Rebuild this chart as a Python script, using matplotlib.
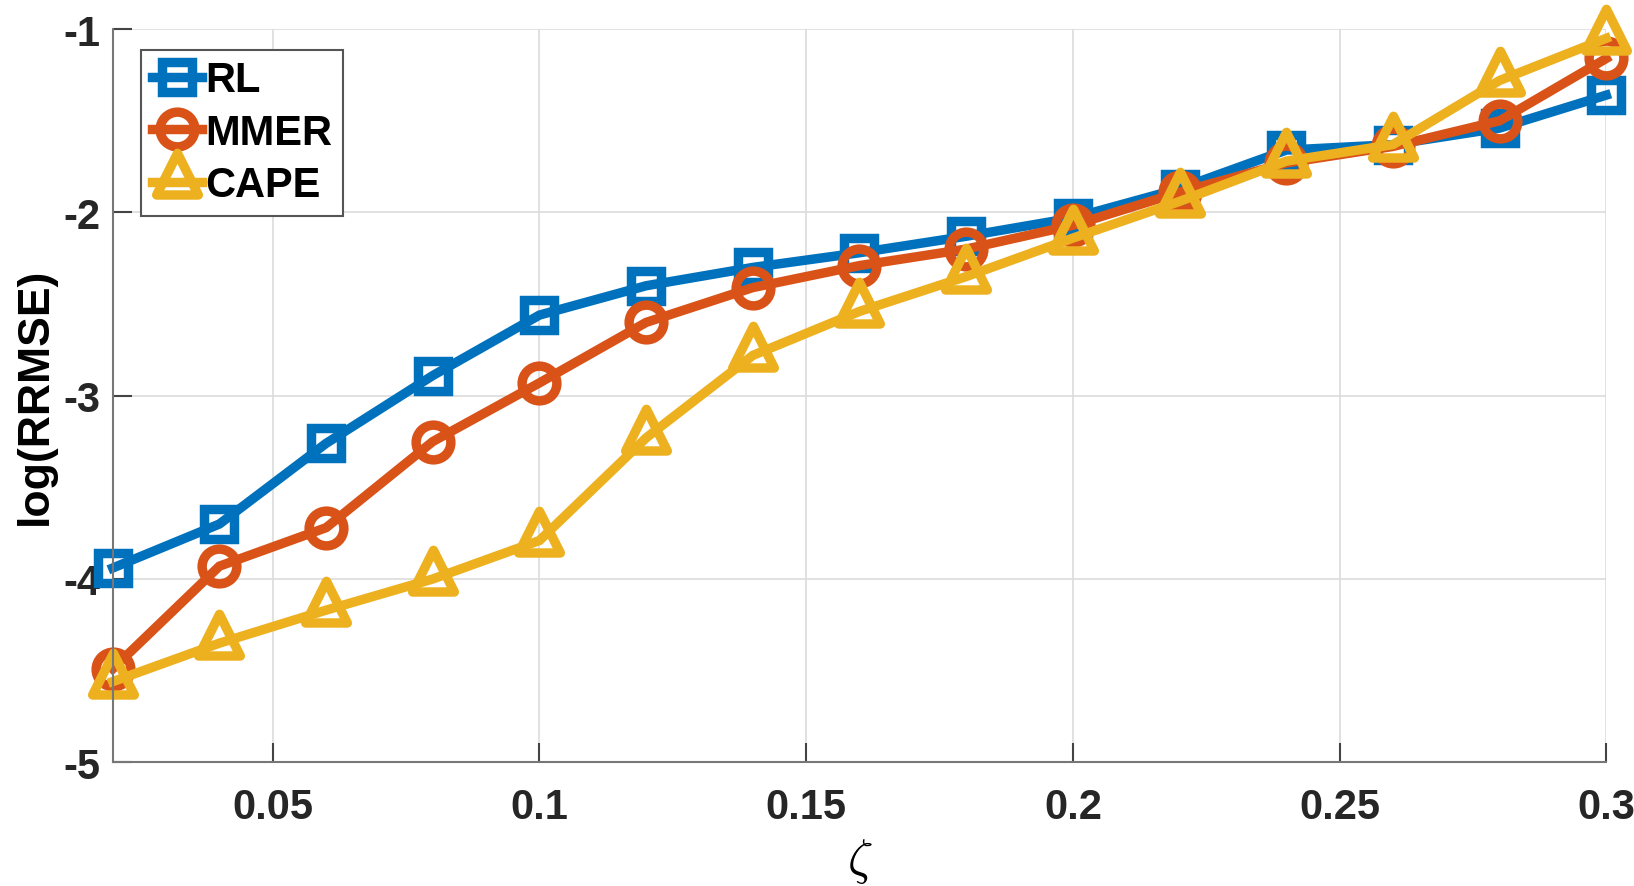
import numpy as np
import matplotlib
matplotlib.use("Agg")
import matplotlib.pyplot as plt
from matplotlib.path import Path

# data
zeta = [0.02, 0.04, 0.06, 0.08, 0.10, 0.12, 0.14, 0.16, 0.18, 0.20, 0.22, 0.24, 0.26, 0.28, 0.30]
rl   = [-3.94, -3.70, -3.26, -2.89, -2.56, -2.40, -2.30, -2.22, -2.13, -2.03, -1.87, -1.66, -1.63, -1.54, -1.36]
mmer = [-4.49, -3.93, -3.72, -3.25, -2.93, -2.60, -2.41, -2.29, -2.20, -2.07, -1.89, -1.73, -1.64, -1.50, -1.16]
cape = [-4.56, -4.35, -4.17, -4.00, -3.79, -3.23, -2.78, -2.54, -2.35, -2.14, -1.94, -1.72, -1.63, -1.28, -1.05]

xticks = [0.05, 0.1, 0.15, 0.2, 0.25, 0.3]
xtick_labels = ["0.05", "0.1", "0.15", "0.2", "0.25", "0.3"]
yticks = [-5, -4, -3, -2, -1]

plt.rcParams["font.family"] = ["Liberation Sans", "DejaVu Sans"]
plt.rcParams["font.weight"] = "bold"
plt.rcParams["mathtext.fontset"] = "cm"
plt.rcParams["axes.unicode_minus"] = False

blue, orange, yellow = "#0072BD", "#D95319", "#EDB120"

# MATLAB-like triangle: data point sits near the centroid
tri = Path([(0, 0.7), (-0.5, -0.3), (0.5, -0.3), (0, 0.7)],
           [Path.MOVETO, Path.LINETO, Path.LINETO, Path.CLOSEPOLY])

fig = plt.figure(figsize=(16.34, 8.87), dpi=100)
ax = fig.add_axes([0.069, 0.1395, 0.914, 0.8265])

lw = 6.8
common = dict(linewidth=lw, markerfacecolor="none", markeredgewidth=lw,
              clip_on=False, solid_joinstyle="miter")
ax.plot(zeta, rl, color=blue, marker="s", markersize=21, label="RL", **common)
ax.plot(zeta, mmer, color=orange, marker="o", markersize=25, label="MMER", **common)
ax.plot(zeta, cape, color=yellow, marker=tri, markersize=42, label="CAPE", **common)

ax.set_xlim(0.02, 0.3)
ax.set_ylim(-5, -1)
ax.set_xticks(xticks)
ax.set_xticklabels(xtick_labels)
ax.set_yticks(yticks)

ax.grid(True, color="#dcdcdc", linewidth=1.2)
ax.set_axisbelow(True)
for side in ["top", "right"]:
    ax.spines[side].set_visible(False)
for side in ["left", "bottom"]:
    ax.spines[side].set_color("#777777")
    ax.spines[side].set_linewidth(1.5)

ax.tick_params(direction="in", length=14, width=1.5, color="#444444",
               labelsize=30, labelcolor="#262626")
ax.tick_params(axis="x", pad=18)
ax.tick_params(axis="y", pad=9)
for lab in ax.get_xticklabels() + ax.get_yticklabels():
    lab.set_fontweight("bold")

ax.set_ylabel("log(RRMSE)", fontsize=32, fontweight="bold", labelpad=5)
ax.set_xlabel(r"$\zeta$", fontsize=36, labelpad=6)

leg = ax.legend(loc="upper left", bbox_to_anchor=(0.019, 0.972), fontsize=30,
                handlelength=1.2, handletextpad=0.1, borderpad=0.25,
                labelspacing=0.3, fancybox=False, framealpha=1,
                edgecolor="#555555", borderaxespad=0)
leg.get_frame().set_linewidth(1.5)
for t in leg.get_texts():
    t.set_fontweight("bold")

plt.savefig("out.png", dpi=100)
